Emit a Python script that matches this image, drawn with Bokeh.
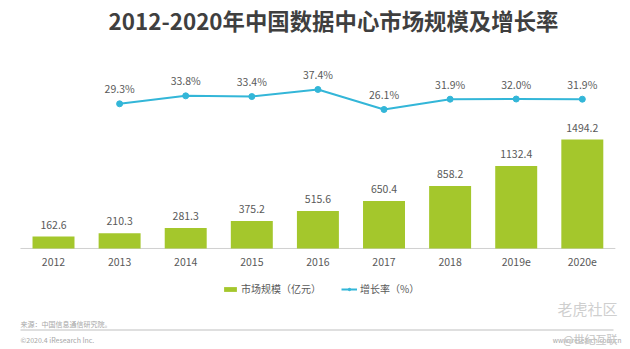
from bokeh.plotting import figure
from bokeh.models import Range1d, Label, Legend, LegendItem, BoxAnnotation, ColumnDataSource
from bokeh.core.properties import value
from bokeh.embed import file_html
from bokeh.resources import INLINE

# ---- data ----
years = ["2012", "2013", "2014", "2015", "2016", "2017", "2018", "2019e", "2020e"]
market = [162.6, 210.3, 281.3, 375.2, 515.6, 650.4, 858.2, 1132.4, 1494.2]  # 亿元
growth_years = ["2013", "2014", "2015", "2016", "2017", "2018", "2019e", "2020e"]
growth = [29.3, 33.8, 33.4, 37.4, 26.1, 31.9, 32.0, 31.9]  # %

title_text = "2012-2020年中国数据中心市场规模及增长率"
bar_label = "市场规模（亿元）"
line_label = "增长率（%）"
source_text = "来源：中国信息通信研究院。"
copyright_text = "©2020.4 iResearch Inc."
site_text = "www.iresearch.com.cn"

# ---- style ----
W, H = 630, 349
FONT = "Noto Sans CJK SC"
BAR_COLOR = "#a4c72c"
LINE_COLOR = "#33b6d8"
TEXT_COLOR = "#595959"

n = len(years)
idx = list(range(n))
gidx = [years.index(y) for y in growth_years]

p = figure(width=W, height=H, output_backend="svg", toolbar_location=None,
           x_range=Range1d(-0.802, 8.729), y_range=Range1d(-1385, 3400),
           x_axis_type=None, y_axis_type=None, min_border=0,
           outline_line_color=None, background_fill_color="white",
           border_fill_color="white")
p.extra_y_ranges = {"rate": Range1d(-109.5, 87.66)}

# baseline (category axis line)
p.segment(x0=[-0.5], x1=[n - 0.5], y0=[0], y1=[0], line_color="#d0d0d0", line_width=1)

# bars
bsrc = ColumnDataSource(dict(x=idx, top=market, lab=[f"{v:.1f}" for v in market],
                             yr=years, zero=[0] * n))
bars = p.vbar(x="x", top="top", width=0.635, source=bsrc, fill_color=BAR_COLOR,
              line_color=None)
p.text(x="x", y="top", text="lab", source=bsrc, text_align="center",
       text_baseline="middle", y_offset=-12, text_font=value(FONT),
       text_font_size="10.5px", text_color=TEXT_COLOR)
# category tick labels
p.text(x="x", y="zero", text="yr", source=bsrc, text_align="center",
       text_baseline="middle", y_offset=14, text_font=value(FONT),
       text_font_size="10.5px", text_color=TEXT_COLOR)

# growth line
gsrc = ColumnDataSource(dict(x=gidx, y=growth, lab=[f"{v:.1f}%" for v in growth]))
line = p.line(x="x", y="y", source=gsrc, y_range_name="rate", line_color=LINE_COLOR,
              line_width=2)
pts = p.scatter(x="x", y="y", source=gsrc, y_range_name="rate", size=6,
                fill_color=LINE_COLOR, line_color=LINE_COLOR)
p.text(x="x", y="y", text="lab", source=gsrc, y_range_name="rate", text_align="center",
       text_baseline="middle", y_offset=-15, text_font=value(FONT),
       text_font_size="10.5px", text_color=TEXT_COLOR)

# legend
legend = Legend(items=[LegendItem(label=bar_label, renderers=[bars]),
                       LegendItem(label=line_label, renderers=[line, pts])],
                orientation="horizontal", location=(222, 53),
                label_text_font=FONT, label_text_font_size="10px",
                label_text_color=TEXT_COLOR, glyph_width=16, glyph_height=6,
                label_height=12, spacing=20, padding=0, margin=0,
                label_standoff=3, border_line_color=None, background_fill_alpha=0)
p.add_layout(legend)


def lab(cx, cy, text, size, color, align="left", style="normal"):
    p.add_layout(Label(x=cx, y=H - cy, x_units="screen", y_units="screen", text=text,
                       text_align=align, text_baseline="middle", text_font=FONT,
                       text_font_size=size, text_color=color, text_font_style=style))


lab(333, 19, title_text, "22.4px", "#3f3f3f", align="center", style="bold")
lab(20, 323, source_text, "7px", "#a6a6a6")
lab(20, 339, copyright_text, "7px", "#a6a6a6")
lab(621, 339, site_text, "6.5px", "#a6a6a6", align="right")
lab(617, 308, "老虎社区", "15px", "#cfcfcf", align="right")
lab(617, 338, "@世纪互联", "11px", "#c4c4c4", align="right")

p.add_layout(BoxAnnotation(left=20, right=613, bottom=H - 330, top=H - 329,
                           left_units="screen", right_units="screen",
                           top_units="screen", bottom_units="screen",
                           fill_color="#bfbfbf", fill_alpha=1, line_color=None))

open("out.html", "w").write(file_html(p, INLINE))
